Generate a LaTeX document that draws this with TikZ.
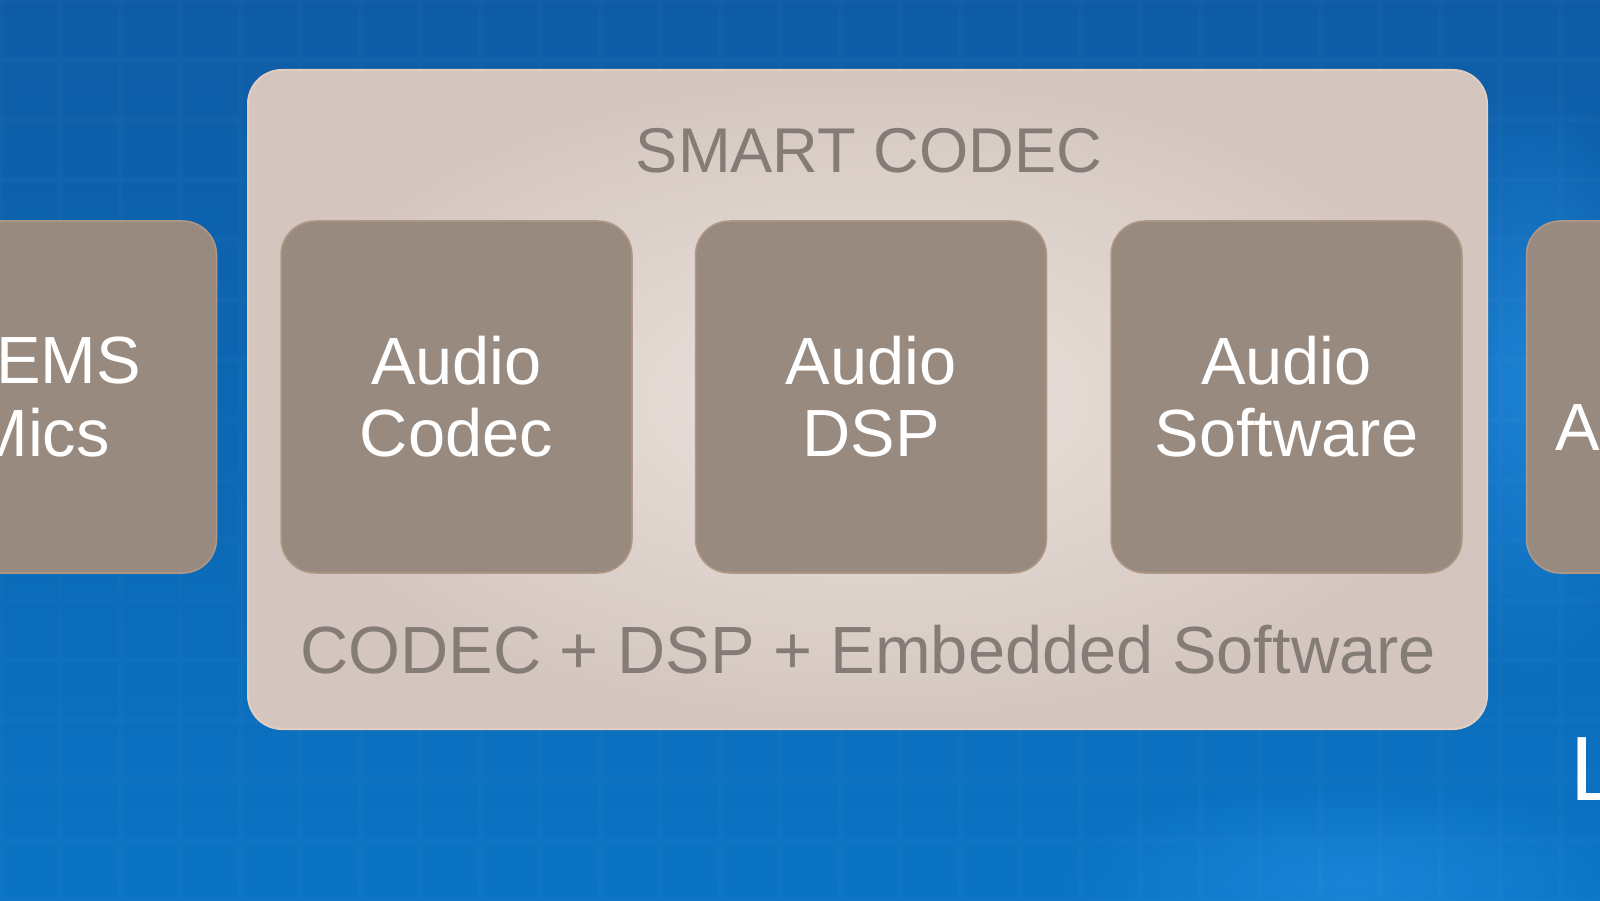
\documentclass[tikz,border=0pt]{standalone}
\usepackage{fontspec}
\setmainfont{Liberation Sans}
\usepackage{tikz}
\usetikzlibrary{positioning,fadings}
\definecolor{bgtop}{RGB}{14,92,166}
\definecolor{bgbottom}{RGB}{10,116,196}
\definecolor{bgglow}{RGB}{40,150,235}
\definecolor{panelin}{RGB}{234,227,222}
\definecolor{panelout}{RGB}{212,198,190}
\definecolor{panelrim}{RGB}{226,205,190}
\definecolor{unitfill}{RGB}{153,138,127}
\definecolor{unitrim}{RGB}{178,152,134}
\definecolor{labelgray}{RGB}{134,124,119}
\tikzfading[name=glowfade, inner color=transparent!0, outer color=transparent!100]
\tikzstyle{gridline}=[white, opacity=0.02, line width=0.05cm, step=0.6cm]
\tikzstyle{glow}=[fill=bgglow, path fading=glowfade]
\tikzstyle{panel}=[rounded corners=0.34cm, inner color=panelin, outer color=panelout, draw=panelrim, line width=0.02cm, minimum width=12.39cm, minimum height=6.59cm]
\tikzstyle{unitbox}=[rounded corners=0.34cm, fill=unitfill, draw=unitrim, line width=0.015cm, minimum width=3.51cm, minimum height=3.52cm, inner sep=0pt, align=center, text=white, font=\fontsize{19pt}{20.5pt}\selectfont]
\tikzstyle{panellabel}=[anchor=base, inner sep=0pt, text=labelgray]

\begin{document}
\begin{tikzpicture}
	\useasboundingbox (0,0) rectangle (16,9);
	\clip (0,0) rectangle (16,9);
	\shade[top color=bgtop, bottom color=bgbottom] (0,0) rectangle (16,9);
	\fill[glow, opacity=0.6] (15.3,5.2) ellipse (1.4cm and 3cm);
	\fill[glow, opacity=0.5] (13.5,0.2) ellipse (3cm and 1cm);
	\draw[gridline] (0,0) grid (16,9);
	\node[panel] (panel) at (8.675,5.005) {};
	\node[panellabel, font=\fontsize{18pt}{18pt}\selectfont] (title) at (8.69,7.27) {SMART CODEC};
	\node[panellabel, font=\fontsize{19pt}{19pt}\selectfont] (summary) at (8.68,2.27) {CODEC + DSP + Embedded Software};
	\node[unitbox] (codec) at (4.565,5.03) {Audio\\Codec};
	\node[unitbox, right=0.62cm of codec] (dsp) {Audio\\DSP};
	\node[unitbox, right=0.63cm of dsp] (software) {Audio\\Software};
	\node[unitbox, left=0.63cm of codec] (mics) {MEMS\\Mics};
	\node[unitbox, right=0.63cm of software] (amps) {Audio\\Amplifiers};
	\node[anchor=base west, inner sep=0pt, text=white, font=\fontsize{26pt}{26pt}\selectfont] (tail) at (15.70,1.00) {L};
\end{tikzpicture}
\end{document}
